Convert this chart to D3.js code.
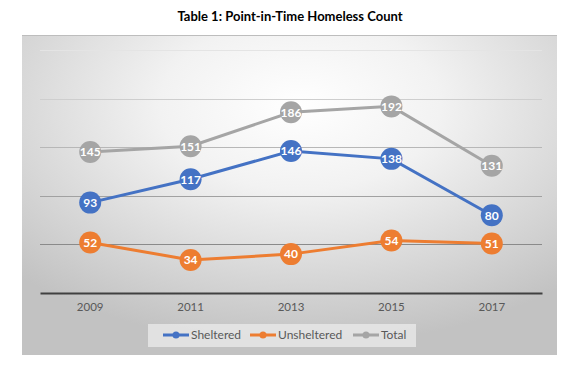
<!DOCTYPE html>
<html>
<head>
<meta charset="utf-8">
<script src="https://cdn.jsdelivr.net/npm/d3@7"></script>
<style>
  body { margin: 0; background: #fff; }
  svg { display: block; font-family: Lato, "Open Sans", sans-serif; }
</style>
</head>
<body>
<div id="chart"></div>
<script>
const years = ["2009", "2011", "2013", "2015", "2017"];
const sheltered = [93, 117, 146, 138, 80];
const unsheltered = [52, 34, 40, 54, 51];
const total = [145, 151, 186, 192, 131];
const yTicks = [0, 50, 100, 150, 200, 250];

const series = [
  {name: "Sheltered", values: sheltered, color: "#4472C4"},
  {name: "Unsheltered", values: unsheltered, color: "#ED7D31"},
  {name: "Total", values: total, color: "#A5A5A5"}
];

const W = 579, H = 379;
const svg = d3.select("#chart").append("svg")
  .attr("width", W).attr("height", H);

// background gradient like the office chart style
const defs = svg.append("defs");
const grad = defs.append("radialGradient")
  .attr("id", "bg")
  .attr("cx", "52%").attr("cy", "22%").attr("r", "75%");
grad.append("stop").attr("offset", "0%").attr("stop-color", "#ffffff");
grad.append("stop").attr("offset", "35%").attr("stop-color", "#f2f2f2");
grad.append("stop").attr("offset", "100%").attr("stop-color", "#c2c2c2");

svg.append("rect")
  .attr("x", 22).attr("y", 35)
  .attr("width", 535).attr("height", 320)
  .attr("fill", "url(#bg)");
svg.append("line")
  .attr("x1", 22).attr("x2", 557).attr("y1", 35.5).attr("y2", 35.5)
  .attr("stroke", "#bdbdbd");

// title
svg.append("text")
  .attr("x", 290).attr("y", 21)
  .attr("text-anchor", "middle")
  .attr("font-size", "13px")
  .attr("font-weight", "bold")
  .attr("fill", "#000")
  .text("Table 1: Point-in-Time Homeless Count");

const x = d3.scaleBand().domain(years).range([40, 542]);
const y = d3.scaleLinear().domain([0, 250]).range([293, 50]);

// gridlines get darker toward the bottom
const gridColor = d3.scaleLinear().domain([250, 50]).range(["#e4e4e4", "#8a8a8a"]);
svg.append("g")
  .selectAll("line")
  .data(yTicks.slice(1))
  .join("line")
  .attr("x1", 40).attr("x2", 542)
  .attr("y1", d => Math.round(y(d)) + 0.5)
  .attr("y2", d => Math.round(y(d)) + 0.5)
  .attr("stroke", d => gridColor(d));

// x axis
const xAxis = svg.append("g")
  .attr("transform", "translate(0," + y(0) + ")")
  .call(d3.axisBottom(x).tickSize(0).tickPadding(10));
xAxis.select(".domain")
  .attr("stroke", "#404040")
  .attr("stroke-width", 2);
xAxis.selectAll("text")
  .attr("font-family", "Lato, sans-serif")
  .attr("font-size", "11.5px")
  .attr("fill", "#595959");

const line = d3.line()
  .x((d, i) => x(years[i]) + x.bandwidth() / 2)
  .y(d => y(d));

// draw total first, then sheltered, then unsheltered on top
[series[2], series[0], series[1]].forEach(s => {
  const g = svg.append("g");
  g.append("path")
    .datum(s.values)
    .attr("d", line)
    .attr("fill", "none")
    .attr("stroke", s.color)
    .attr("stroke-width", 3);

  const pt = g.selectAll("g.pt")
    .data(s.values)
    .join("g")
    .attr("class", "pt")
    .attr("transform", (d, i) => "translate(" + (x(years[i]) + x.bandwidth() / 2) + "," + y(d) + ")");
  pt.append("circle")
    .attr("r", 11)
    .attr("fill", s.color);
  pt.append("text")
    .attr("text-anchor", "middle")
    .attr("dy", "0.36em")
    .attr("font-size", "12px")
    .attr("font-weight", "bold")
    .attr("fill", "#fff")
    .text(d => d);
});

// legend
const legend = svg.append("g");
legend.append("rect")
  .attr("x", 148).attr("y", 324)
  .attr("width", 268).attr("height", 23)
  .attr("fill", "#e6e6e6")
  .attr("fill-opacity", 0.85);

const legendX = [163, 250, 353];
series.forEach((s, i) => {
  const lg = legend.append("g")
    .attr("transform", "translate(" + legendX[i] + ",335)");
  lg.append("line")
    .attr("x1", 0).attr("x2", 26)
    .attr("stroke", s.color)
    .attr("stroke-width", 3);
  lg.append("circle")
    .attr("cx", 13).attr("r", 3.5)
    .attr("fill", s.color);
  lg.append("text")
    .attr("x", 28)
    .attr("dy", "0.36em")
    .attr("font-size", "12px")
    .attr("fill", "#595959")
    .text(s.name);
});
</script>
</body>
</html>
